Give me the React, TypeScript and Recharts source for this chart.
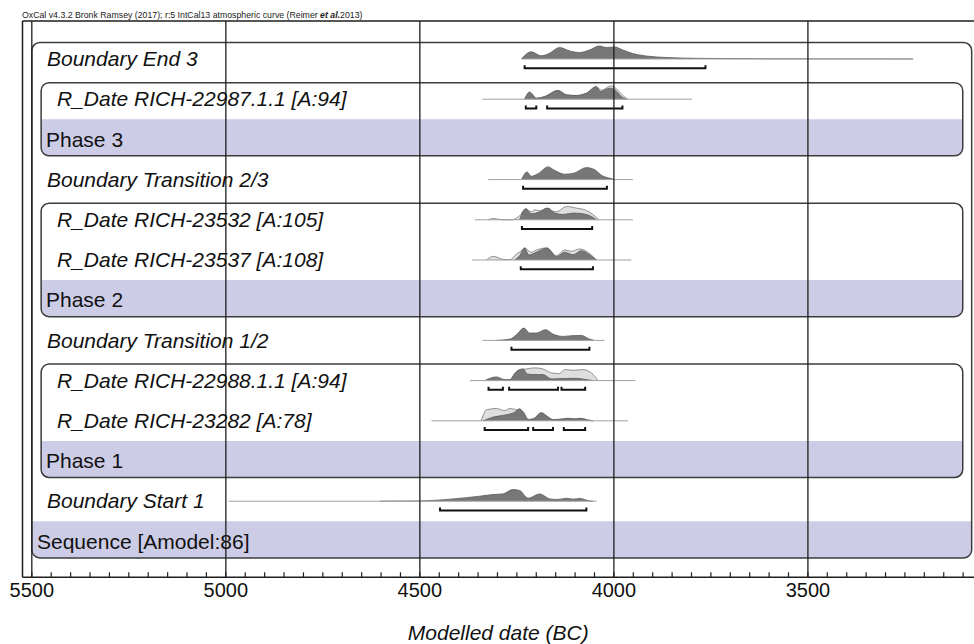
import {
  ComposedChart,
  Area,
  XAxis,
  YAxis,
  ReferenceLine,
  ReferenceArea,
} from 'recharts'

const FONT = '"Liberation Sans", Arial, Helvetica, sans-serif'
const W = 974
const H = 644

// axis ranges (calendar years BC, rows counted from the top)
const X_MIN = 3072
const X_MAX = 5524
const Y_MIN = -0.945
const Y_MAX = 12.893
const DENSITY_SCALE = 0.0249

const majorTicks = [5500, 5000, 4500, 4000, 3500]
const minorTicks: number[] = []
for (let y = 5500; y >= 3100; y -= 50) minorTicks.push(y)

const header = 'OxCal v4.3.2 Bronk Ramsey (2017); r:5 IntCal13 atmospheric curve (Reimer '

const rowLabels = [
  'Boundary End 3',
  'R_Date RICH-22987.1.1 [A:94]',
  'Phase 3',
  'Boundary Transition 2/3',
  'R_Date RICH-23532 [A:105]',
  'R_Date RICH-23537 [A:108]',
  'Phase 2',
  'Boundary Transition 1/2',
  'R_Date RICH-22988.1.1 [A:94]',
  'R_Date RICH-23282 [A:78]',
  'Phase 1',
  'Boundary Start 1',
  'Sequence [Amodel:86]',
]
const rowKinds = [
  'boundary', 'date', 'phase', 'boundary', 'date', 'date', 'phase',
  'boundary', 'date', 'date', 'phase', 'boundary', 'sequence',
]

type Pt = [number, number] // [year BC, relative probability]

// posteriors (dark)
const endBoundary3: Pt[] = [[4238, 0], [4213, 7.2], [4187, 3.2], [4166, 5.7], [4140, 11.5], [4114, 8], [4088, 6.5], [4063, 9], [4037, 13], [4020, 11.5], [3998, 12], [3977, 9], [3952, 5.5], [3917, 3], [3865, 1.5], [3788, 0.7], [3600, 0.2], [3229, 0]]
const rich22987: Pt[] = [[4230, 0], [4217, 7], [4200, 1], [4178, 2.7], [4144, 8.7], [4122, 4.3], [4097, 3.7], [4071, 6], [4045, 12.7], [4035, 7.7], [4011, 11], [3994, 8.3], [3981, 2.7], [3968, 0]]
const transition23: Pt[] = [[4238, 0], [4224, 7.7], [4213, 3.3], [4195, 6], [4170, 12.7], [4153, 9.3], [4127, 5.3], [4101, 6.7], [4071, 12], [4050, 10], [4032, 4.3], [4007, 1], [3998, 0]]
const rich23532: Pt[] = [[4243, 0], [4227, 11], [4213, 6], [4193, 7.7], [4170, 11.7], [4153, 6.7], [4131, 5.3], [4105, 6.7], [4080, 6], [4058, 3.3], [4045, 0]]
const rich23537: Pt[] = [[4256, 0], [4243, 4.3], [4230, 12], [4219, 5], [4200, 7.7], [4172, 12], [4148, 3.3], [4127, 7.7], [4105, 5.3], [4084, 9.3], [4063, 5.3], [4045, 0]]
const transition12: Pt[] = [[4303, 0], [4268, 1.3], [4251, 5.7], [4232, 12.3], [4217, 7.3], [4200, 7.3], [4176, 10.7], [4157, 6.3], [4131, 4], [4110, 4.7], [4084, 5], [4063, 1.3], [4050, 0]]
const rich22988: Pt[] = [[4333, 0], [4303, 3.7], [4281, 1], [4267, 1], [4256, 7], [4243, 11], [4233, 11.7], [4224, 6.7], [4204, 6], [4183, 6], [4161, 1.7], [4131, 2], [4097, 2.3], [4071, 1], [4054, 0]]
const rich23282: Pt[] = [[4337, 0], [4311, 3.7], [4277, 6], [4257, 8.3], [4243, 12], [4230, 6], [4221, 1], [4208, 1.7], [4187, 7.7], [4170, 3.7], [4157, 1], [4131, 1.7], [4118, 2.3], [4101, 1.7], [4084, 2.3], [4071, 1], [4054, 0]]
const startBoundary1: Pt[] = [[4603, 0], [4500, 0.3], [4414, 2.3], [4346, 5], [4311, 6.7], [4286, 7.3], [4260, 11.7], [4243, 10.7], [4221, 3], [4191, 7.3], [4165, 2.3], [4144, 1.7], [4122, 3], [4105, 2], [4088, 2.7], [4063, 0.3], [4054, 0]]

// unmodelled likelihoods (light)
const rich22987Prior: Pt[] = [[4230, 0], [4217, 7], [4200, 1], [4178, 2.7], [4144, 8.7], [4122, 4.3], [4097, 3.7], [4071, 6], [4045, 12], [4032, 9], [4007, 13.3], [3990, 9], [3975, 3], [3964, 0]]
const rich23532Prior: Pt[] = [[4324, 0], [4311, 1.3], [4286, 0], [4264, 0], [4243, 4], [4227, 11], [4213, 8], [4204, 10], [4190, 9], [4174, 11.5], [4160, 9], [4148, 8], [4122, 13.3], [4097, 11.7], [4071, 9.3], [4054, 5.3], [4039, 0]]
const rich23537Prior: Pt[] = [[4328, 0], [4311, 3.7], [4286, 0.7], [4268, 0.3], [4251, 6], [4238, 9.3], [4230, 12], [4213, 7.7], [4200, 10], [4174, 12], [4148, 4.3], [4127, 10], [4110, 8.7], [4088, 11], [4071, 8.7], [4045, 0]]
const rich22988Prior: Pt[] = [[4268, 0], [4243, 10.3], [4225, 11.7], [4204, 12.7], [4183, 11.7], [4161, 7.7], [4140, 7], [4127, 11], [4105, 10.3], [4080, 11], [4058, 7.7], [4041, 0]]
const rich23282Prior: Pt[] = [[4342, 0], [4328, 11], [4303, 12.3], [4281, 10.3], [4268, 12.3], [4251, 11], [4234, 9.3], [4225, 3], [4221, 1.5], [4208, 2], [4187, 8.3], [4170, 4], [4157, 1.2], [4131, 2], [4118, 2.6], [4101, 2], [4084, 2.6], [4071, 1.2], [4054, 0]]

const posteriors = [
  { row: 0, pts: endBoundary3 },
  { row: 1, pts: rich22987 },
  { row: 3, pts: transition23 },
  { row: 4, pts: rich23532 },
  { row: 5, pts: rich23537 },
  { row: 7, pts: transition12 },
  { row: 8, pts: rich22988 },
  { row: 9, pts: rich23282 },
  { row: 11, pts: startBoundary1 },
]
const priors = [
  { row: 1, pts: rich22987Prior },
  { row: 4, pts: rich23532Prior },
  { row: 5, pts: rich23537Prior },
  { row: 8, pts: rich22988Prior },
  { row: 9, pts: rich23282Prior },
]

// full range lines [row, from, to]
const ranges: [number, number, number][] = [
  [0, 4238, 3229], [1, 4339, 3799], [3, 4324, 3951], [4, 4358, 3951], [5, 4365, 3955],
  [7, 4339, 4024], [8, 4371, 3944], [9, 4470, 3964], [11, 4993, 4045],
]

// 95.4% ranges [row, from, to]
const hpd: [number, number, number][] = [
  [0, 4230, 3764],
  [1, 4227, 4200], [1, 4172, 3978],
  [3, 4234, 4018],
  [4, 4237, 4056],
  [5, 4240, 4054],
  [7, 4264, 4063],
  [8, 4323, 4286], [8, 4270, 4144], [8, 4135, 4074],
  [9, 4333, 4221], [9, 4208, 4157], [9, 4129, 4074],
  [11, 4448, 4071],
]

// grouping boxes: first row, last row, left year, right year
const groups: [number, number, number, number][] = [
  [0, 12, 5500, 3078],
  [1, 2, 5476, 3101],
  [4, 6, 5476, 3101],
  [8, 10, 5476, 3101],
]

const LAVENDER = '#cdcce6'
const INK = '#1e1e1e'

function toSeries(pts: Pt[], row: number) {
  return pts.map(([year, p]) => ({ year, v: row - p * DENSITY_SCALE }))
}

function BoxShape(props: any) {
  const { x, y, width, height } = props
  return <rect x={x} y={y} width={width} height={height} rx={8} ry={8} fill="none" stroke="#3c3c3c" strokeWidth={1.5} />
}

function BandShape(props: any) {
  const { x, y, width: w, height: h } = props
  const r = 8
  const d = `M${x},${y} H${x + w} V${y + h - r} Q${x + w},${y + h} ${x + w - r},${y + h} H${x + r} Q${x},${y + h} ${x},${y + h - r} Z`
  return <path d={d} fill={LAVENDER} stroke="none" />
}

function BracketShape(props: any) {
  const { x, y, width: w, height: h } = props
  return (
    <path
      d={`M${x},${y} V${y + h} H${x + w} V${y}`}
      fill="none"
      stroke="#111"
      strokeWidth={2}
    />
  )
}

function XTick({ x, y, payload }: any) {
  const v = payload.value as number
  const major = majorTicks.includes(v)
  return (
    <g>
      <line x1={x} x2={x} y1={y} y2={y - 5} stroke={INK} strokeWidth={1.2} />
      {major && (
        <text x={x} y={y + 20} textAnchor="middle" fontSize={20} fontFamily={FONT} fill="#111">
          {v}
        </text>
      )}
    </g>
  )
}

const indent: Record<string, number> = { boundary: 24.5, date: 34.5, phase: 23.5, sequence: 14.5 }

function YTick({ x, y, payload }: any) {
  const i = payload.value as number
  const kind = rowKinds[i]
  const italic = kind === 'boundary' || kind === 'date'
  return (
    <text
      x={x + indent[kind]}
      y={y + 7.3}
      fontSize={21}
      fontFamily={FONT}
      fontStyle={italic ? 'italic' : 'normal'}
      fill="#111"
    >
      {rowLabels[i]}
    </text>
  )
}

export default function App() {
  return (
    <div style={{ position: 'absolute', left: 0, top: 0, width: W, height: H, background: '#fff' }}>
      <svg width={W} height={20} style={{ position: 'absolute', left: 0, top: 0 }}>
        <text x={22} y={18.3} fontSize={8.75} fontFamily={FONT} fill="#222">
          {header}
          <tspan fontStyle="italic" fontWeight="bold">et al.</tspan>
          2013)
        </text>
      </svg>
      <ComposedChart
        width={W}
        height={H}
        margin={{ top: 21, right: 0, bottom: 0, left: 20.5 }}
      >
        <XAxis
          type="number"
          dataKey="year"
          domain={[X_MIN, X_MAX]}
          reversed
          allowDataOverflow
          ticks={minorTicks}
          interval={0}
          tickLine={false}
          tickSize={0}
          tickMargin={0}
          tick={(p: any) => <XTick {...p} />}
          axisLine={{ stroke: INK, strokeWidth: 1.5 }}
          height={66.7}
          label={{
            value: 'Modelled date (BC)',
            position: 'insideBottom',
            offset: 4,
            fontSize: 21,
            fontStyle: 'italic',
            fontFamily: FONT,
            fill: '#111',
          }}
        />
        <YAxis
          type="number"
          domain={[Y_MIN, Y_MAX]}
          reversed
          allowDataOverflow
          ticks={rowLabels.map((_, i) => i)}
          interval={0}
          width={2}
          tickLine={false}
          tickSize={0}
          tickMargin={0}
          tick={(p: any) => <YTick {...p} />}
          axisLine={{ stroke: INK, strokeWidth: 1.5 }}
        />

        {groups.map(([first, last, x1, x2], i) => (
          <ReferenceArea
            key={`band${i}`}
            x1={x1}
            x2={x2}
            y1={last - 0.5}
            y2={last + 0.41}
            shape={(p: any) => <BandShape {...p} />}
          />
        ))}
        {groups.map(([first, last, x1, x2], i) => (
          <ReferenceArea
            key={`box${i}`}
            x1={x1}
            x2={x2}
            y1={first - 0.41}
            y2={last + 0.41}
            shape={(p: any) => <BoxShape {...p} />}
          />
        ))}

        {ranges.map(([row, from, to], i) => (
          <ReferenceLine
            key={`rng${i}`}
            segment={[{ x: from, y: row }, { x: to, y: row }]}
            stroke="#a0a0a0"
            strokeWidth={1}
          />
        ))}

        {priors.map((s, i) => (
          <Area
            key={`prior${i}`}
            data={toSeries(s.pts, s.row)}
            dataKey="v"
            type="monotone"
            baseValue={s.row}
            stroke="#7a7a7a"
            strokeWidth={0.8}
            fill="#dedede"
            fillOpacity={1}
            dot={false}
            activeDot={false}
            isAnimationActive={false}
          />
        ))}
        {posteriors.map((s, i) => (
          <Area
            key={`post${i}`}
            data={toSeries(s.pts, s.row)}
            dataKey="v"
            type="monotone"
            baseValue={s.row}
            stroke="#5a5a5a"
            strokeWidth={0.8}
            fill="#777777"
            fillOpacity={1}
            dot={false}
            activeDot={false}
            isAnimationActive={false}
          />
        ))}

        {hpd.map(([row, from, to], i) => (
          <ReferenceArea
            key={`hpd${i}`}
            x1={from}
            x2={to}
            y1={row + 0.155}
            y2={row + 0.23}
            shape={(p: any) => <BracketShape {...p} />}
          />
        ))}

        <ReferenceLine y={Y_MIN} stroke={INK} strokeWidth={1.5} />
        {majorTicks.map((t) => (
          <ReferenceLine key={t} x={t} stroke={INK} strokeWidth={1.3} />
        ))}
      </ComposedChart>
    </div>
  )
}
